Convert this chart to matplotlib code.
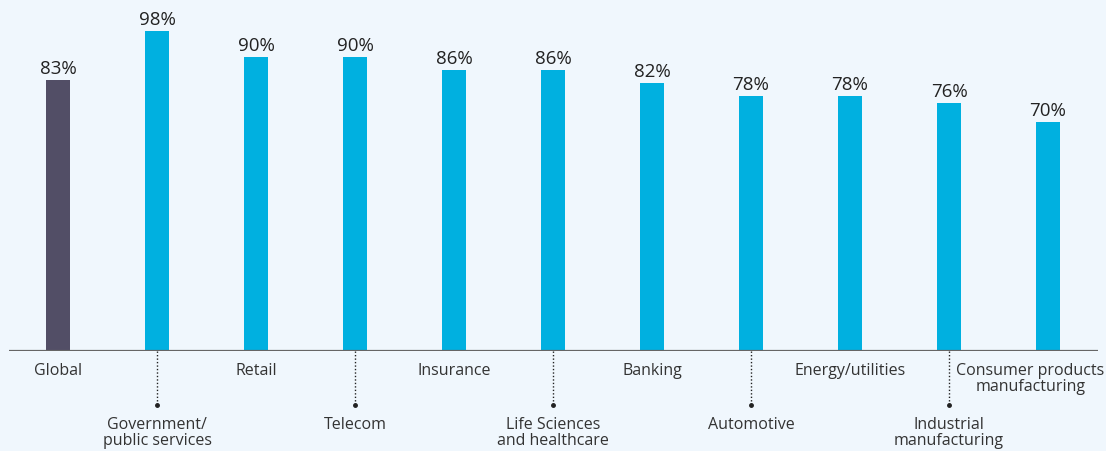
import matplotlib.pyplot as plt

categories = ['Global', 'Government/\npublic services', 'Retail', 'Telecom', 'Insurance',
              'Life Sciences\nand healthcare', 'Banking', 'Automotive', 'Energy/utilities',
              'Industrial\nmanufacturing', 'Consumer products\nmanufacturing']
values = [83, 98, 90, 90, 86, 86, 82, 78, 78, 76, 70]

bg = '#f0f7fd'
colors = ['#524e66'] + ['#00b0e0'] * (len(values) - 1)

plt.rcParams['font.family'] = ['Open Sans', 'DejaVu Sans']

fig = plt.figure(figsize=(11.06, 4.52), dpi=100, facecolor=bg)
ax = fig.add_axes([9 / 1106, 1 - 352 / 452, 1089 / 1106, 352 / 452])
ax.set_facecolor(bg)

x = list(range(len(values)))
ax.bar(x, values, width=0.242, color=colors, zorder=2)

for i, v in enumerate(values):
    ax.text(i, v + 1.0, f'{v}%', ha='center', va='bottom', fontsize=13.5, color='#222222')
    if i % 2 == 0:
        xi = i - 0.18 if i == len(values) - 1 else i
        ax.text(xi, -3.4, categories[i], ha='center', va='top', fontsize=11.5,
                color='#333333', linespacing=1.0)
    else:
        ax.plot([i, i], [0, -16.5], linestyle=(0, (1, 1.5)), color='#222222',
                lw=1, clip_on=False)
        ax.plot([i], [-16.5], marker='o', ms=2.5, color='#222222', clip_on=False)
        ax.text(i, -19.8, categories[i], ha='center', va='top', fontsize=11.5,
                color='#333333', linespacing=1.0)

ax.set_xlim(-0.495, 10.505)
ax.set_ylim(0, 107.8)
ax.axhline(0, color='#666666', lw=1.6, zorder=3)
for s in ax.spines.values():
    s.set_visible(False)
ax.set_xticks([])
ax.set_yticks([])

fig.savefig('out.png', dpi=100, facecolor=bg)
